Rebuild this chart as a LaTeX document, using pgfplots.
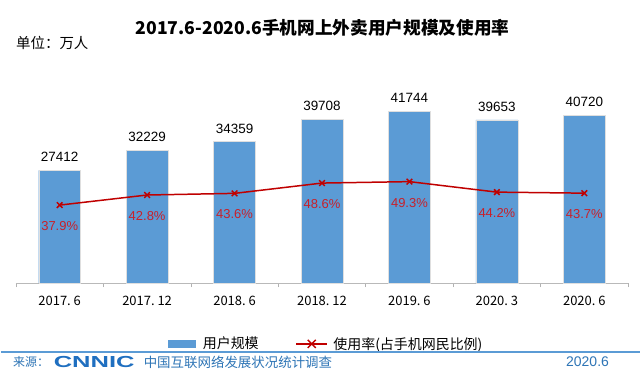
\documentclass[border=0pt]{standalone}
\usepackage{fontspec}
\usepackage{graphicx}
\usepackage{pgfplots}
\pgfplotsset{compat=1.18}
\setmainfont{Liberation Sans}
\newfontfamily\cjk{Noto Sans CJK SC}
\definecolor{barblue}{HTML}{5B9BD5}
\definecolor{linered}{HTML}{C00000}
\definecolor{txtred}{HTML}{C8202A}
\definecolor{srcblue}{HTML}{2E75B6}
\definecolor{logoblue}{HTML}{1F6FC0}
\begin{document}
\begin{tikzpicture}[x=1pt,y=1pt]
\fill[white] (0,0) rectangle (641,378);
\node[font=\cjk\bfseries\fontsize{17.7}{20}\selectfont] at (322.5,350) {2017.6-2020.6手机网上外卖用户规模及使用率};
\node[anchor=west, font=\cjk\fontsize{14.5}{16}\selectfont, inner sep=0pt] at (15,335) {单位：万人};

\begin{axis}[at={(15pt,94pt)}, anchor=south west, scale only axis,
  width=614pt, height=206.5pt,
  xmin=-0.5, xmax=6.5, ymin=0, ymax=50000,
  axis x line*=bottom, axis y line=none,
  x axis line style={draw=gray!55, line width=0.8pt},
  xtick={0,...,6},
  xticklabels={2017.\ 6,2017.\ 12,2018.\ 6,2018.\ 12,2019.\ 6,2020.\ 3,2020.\ 6},
  major tick length=0pt,
  minor xtick={-0.5,0.5,...,6.5}, minor tick length=4pt, tick align=outside,
  minor tick style={draw=gray!60, line width=0.6pt},
  xticklabel style={font=\cjk\fontsize{13}{15}\selectfont, yshift=-9pt},
  ybar, bar width=42pt,
  nodes near coords={\pgfmathprintnumber[fixed,precision=0,1000 sep={},assume math mode=true]{\pgfplotspointmeta}},
  nodes near coords style={font=\fontsize{13.5}{15}\selectfont, text=black, yshift=5pt},
  clip=false]
\addplot[fill=barblue, draw=gray!25, line width=0.4pt] coordinates {(0,27412)(1,32229)(2,34359)(3,39708)(4,41744)(5,39653)(6,40720)};
\end{axis}

\begin{axis}[at={(15pt,94pt)}, anchor=south west, scale only axis,
  width=614pt, height=206.5pt,
  xmin=-0.5, xmax=6.5, ymin=0, ymax=100,
  hide axis, clip=false,
  legend style={at={(axis description cs:0.5065,-0.295)}, anchor=center, draw=none, fill=none,
    legend columns=2, font=\cjk\fontsize{14}{16}\selectfont,
    /tikz/every even column/.append style={column sep=35pt}},
  legend cell align=left]
\addlegendimage{legend image code/.code={\fill[barblue] (0pt,-3.5pt) rectangle (28pt,3.5pt); \path (33pt,0pt);}}
\addlegendentry{用户规模}
\addlegendimage{legend image code/.code={\draw[linered, line width=1.5pt] (0pt,0pt)--(31pt,0pt);
   \draw[linered, line width=1.5pt] (11.5pt,-4pt)--(19.5pt,4pt) (11.5pt,4pt)--(19.5pt,-4pt); \path (35pt,0pt);}}
\addlegendentry{使用率(占手机网民比例)}
\addplot[forget plot, linered, line width=1.5pt, mark=x, mark size=4pt, mark options={line width=1.5pt},
  nodes near coords, point meta=explicit symbolic,
  nodes near coords style={font=\fontsize{13}{15}\selectfont, text=txtred, anchor=center, yshift=-21pt}]
  coordinates {(0,37.9)[37.9\%] (1,42.8)[42.8\%] (2,43.6)[43.6\%] (3,48.6)[48.6\%] (4,49.3)[49.3\%] (5,44.2)[44.2\%] (6,43.7)[43.7\%]};
\end{axis}

\draw[barblue, line width=2pt] (0,25.3)--(641,25.3);
\node[anchor=west, font=\cjk\fontsize{12}{14}\selectfont, text=srcblue, inner sep=0pt] at (12,15) {来源：};
\node[font=\bfseries\fontsize{16}{16}\selectfont, text=logoblue, inner sep=0pt] at (93.5,15) {\scalebox{1.6}[1]{CNNIC}};
\node[anchor=west, font=\cjk\fontsize{13.5}{15}\selectfont, text=srcblue, inner sep=0pt] at (143,15) {中国互联网络发展状况统计调查};
\node[anchor=east, font=\fontsize{14}{16}\selectfont, text=srcblue, inner sep=0pt] at (610,15) {2020.6};
\end{tikzpicture}
\end{document}
